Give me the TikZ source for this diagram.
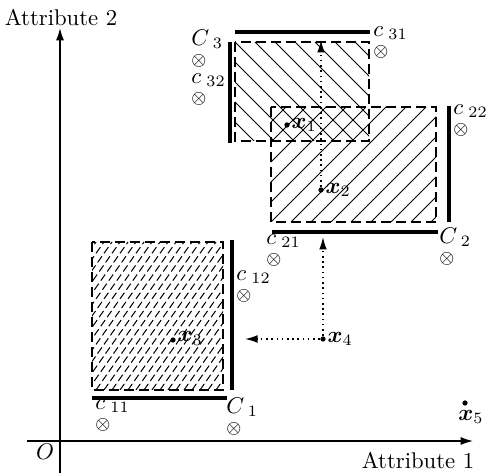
\documentclass[tikz,border=0pt]{standalone}
\usepackage{amsmath,amssymb}
\usetikzlibrary{arrows.meta}
\newcommand{\ctrlabel}[1]{\rlap{\raisebox{9pt}{$#1$}}{\footnotesize$\otimes$}}
\begin{document}
\begin{tikzpicture}[x=0.44pt,y=-0.44pt,
  hatch/.style={line width=0.45pt},
  hatchd/.style={line width=0.45pt,dash pattern=on 3.3pt off 1.6pt},
  boxd/.style={line width=0.6pt,dash pattern=on 4.4pt off 2.2pt},
  thick line/.style={line width=1.8pt},
  axis/.style={line width=0.65pt,-{Latex[length=5.5pt,width=3.6pt]}},
  dotarrow/.style={line width=0.6pt,dash pattern=on 0.7pt off 1.6pt,-{Latex[length=5.5pt,width=3.4pt]}},
  pt/.style={circle,fill,inner sep=0pt,minimum size=2.3pt},
  ctr/.style={inner sep=0pt,anchor=base west},
  ptlab/.style={inner sep=0.5pt,anchor=west}]
\useasboundingbox (0,0) rectangle (489,473);
% hatching box 3
\begin{scope}
\clip (235,42) rectangle (369,141);
\foreach \i in {-100,-80,...,140} \draw[hatch] (235+\i,42) -- ++(100,100);
\end{scope}
% hatching box 2
\begin{scope}
\clip (271,107) rectangle (436,222);
\foreach \i in {-120,-100,...,170} \draw[hatch] (271+\i,222) -- ++(115,-115);
\end{scope}
% hatching box 1
\begin{scope}
\clip (92,242) rectangle (223,390);
\foreach \i in {-108,-100,...,140} \draw[hatchd] (92+\i,390) -- ++(104,-148);
\end{scope}
% boxes
\draw[boxd] (235,42) rectangle (369,141);
\draw[boxd] (271,107) rectangle (436,222);
\draw[boxd] (92,242) rectangle (223,390);
% thick bars
\draw[thick line] (235,32) -- (370,32);
\draw[thick line] (230,42) -- (230,143);
\draw[thick line] (449,106) -- (449,222);
\draw[thick line] (272,232) -- (438,232);
\draw[thick line] (232,240) -- (232,390);
\draw[thick line] (92,398) -- (227,398);
% axes
\draw[axis] (60,473) -- (60,28);
\draw[axis] (27,441) -- (473,441);
\node[inner sep=0pt] (a2) at (61,17) {Attribute 2};
\node[inner sep=0pt] (a1) at (418,460) {Attribute 1};
\node[inner sep=0pt] (o) at (45,452) {$O$};
% points
\node[pt] (x1) at (287,125) {};
\node[pt] (x2) at (321,190) {};
\node[pt] (x3) at (173,340) {};
\node[pt] (x4) at (323,339) {};
\node[pt] (x5) at (465,403) {};
\node[ptlab] at (x1.east) {$\boldsymbol{x}_1$};
\node[ptlab] at (x2.east) {$\boldsymbol{x}_2$};
\node[ptlab,anchor=south west] at ([yshift=-3pt]x3.east) {$\boldsymbol{x}_3$};
\node[ptlab] at (x4.east) {$\boldsymbol{x}_4$};
\node[inner sep=0pt,anchor=north west] at (458,410) {$\boldsymbol{x}_5$};
% arrows
\coordinate (t41) at (245,339);
\coordinate (t42) at (323,237);
\coordinate (t21) at (321,40);
\draw[dotarrow] (x4) -- (t41);
\draw[dotarrow] (x4) -- (t42);
\draw[dotarrow] (x2) -- (t21);
% centres with labels
\node[ctr] (c11) at (95,429.5) {\ctrlabel{c_{\;11}}};
\node[ctr] (C1) at (226,433.5) {\ctrlabel{C_{\;1}}};
\node[ctr] (c12) at (236,300.5) {\ctrlabel{c_{\;12}}};
\node[ctr] (c21) at (266,264.5) {\ctrlabel{c_{\;21}}};
\node[ctr] (C2) at (439,263.5) {\ctrlabel{C_{\;2}}};
\node[ctr] (c22) at (453,134.5) {\ctrlabel{c_{\;22}}};
\node[ctr] (c31) at (373,56.5) {\ctrlabel{c_{\;31}}};
\node[ctr] (C3) at (191,65.5) {\ctrlabel{C_{\;3}}};
\node[ctr] (c32) at (191,103.5) {\ctrlabel{c_{\;32}}};
\end{tikzpicture}
\end{document}
